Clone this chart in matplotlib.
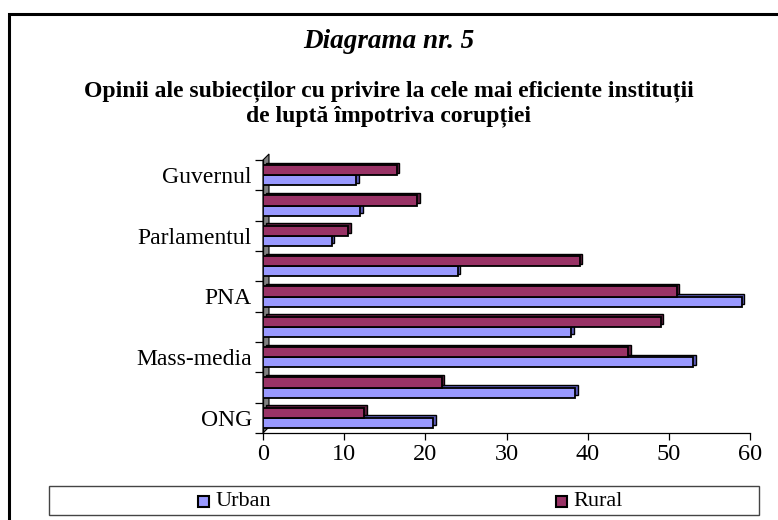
import matplotlib
matplotlib.use("Agg")
import matplotlib.pyplot as plt
import matplotlib.transforms as mtransforms
from matplotlib.patches import Rectangle, Polygon
import numpy as np

# categories from bottom to top (only every other one is labelled)
categories = ["ONG", "", "Mass-media", "", "PNA", "", "Parlamentul", "", "Guvernul"]
urban = [21, 38.5, 53, 38, 59, 24, 8.5, 12, 11.5]
rural = [12.5, 22, 45, 49, 51, 39, 10.5, 19, 16.5]
xticks = [0, 10, 20, 30, 40, 50, 60]

title = "Diagrama nr. 5"
subtitle = "Opinii ale subiecților cu privire la cele mai eficiente instituții\nde luptă împotriva corupției"

urban_color = "#9999FF"
urban_side = "#5C5CB8"
rural_color = "#993366"
rural_side = "#5E1F3F"

plt.rcParams["font.family"] = ["Liberation Serif", "DejaVu Serif"]

W, H = 778, 520
fig = plt.figure(figsize=(W / 100, H / 100), dpi=100)

# outer frame (left/top visible)
fig.add_artist(Rectangle((9 / W, -0.1), 1.2, (H - 14) / H + 0.1, transform=fig.transFigure,
                         fill=False, edgecolor="black", linewidth=2.2))

fig.text(0.5, 1 - 42 / H, title, ha="center", va="center", fontsize=19.5,
         fontweight="bold", fontstyle="italic")
fig.text(0.5, 1 - 104 / H, subtitle, ha="center", va="center", fontsize=17,
         fontweight="bold", linespacing=1.2)

ax = fig.add_axes([263 / W, 1 - 433 / H, (750 - 263) / W, (433 - 160) / H])

y = np.arange(len(categories))
h = 0.33
depth = mtransforms.ScaledTranslation(2.5 / 100, 2.5 / 100, fig.dpi_scale_trans)

# 3D side faces (shifted copies) then front faces
for vals, off, side in [(urban, -h / 2, urban_side), (rural, h / 2, rural_side)]:
    bars = ax.barh(y + off, vals, height=h, color=side, edgecolor="black", linewidth=1.0, zorder=2)
    for b in bars:
        b.set_transform(ax.transData + depth)
ax.barh(y - h / 2, urban, height=h, color=urban_color, edgecolor="black", linewidth=1.3,
        zorder=3, label="Urban")
ax.barh(y + h / 2, rural, height=h, color=rural_color, edgecolor="black", linewidth=1.3,
        zorder=3, label="Rural")

ax.set_xlim(0, 60)
ax.set_ylim(-0.5, len(categories) - 0.5)

# gray back wall of the category axis
wall = Polygon([(0, 0), (0, 1), (6 / 487, 1 + 6 / 273), (6 / 487, 6 / 273)], closed=True,
               transform=ax.transAxes, facecolor="#808080", edgecolor="black", linewidth=0.8,
               zorder=1, clip_on=False)
ax.add_patch(wall)

for s in ["top", "right"]:
    ax.spines[s].set_visible(False)
ax.spines["left"].set_linewidth(0.9)
ax.spines["bottom"].set_linewidth(0.9)

ax.set_xticks(xticks)
ax.set_xticklabels([str(t) for t in xticks], fontsize=17.5)
ax.tick_params(axis="x", direction="out", length=5, width=0.9, pad=3)

ax.set_yticks(y)
ax.set_yticklabels(categories, fontsize=17)
ax.tick_params(axis="y", which="major", length=0, pad=8)
ax.set_yticks(np.arange(len(categories) + 1) - 0.5, minor=True)
ax.tick_params(axis="y", which="minor", direction="out", length=6, width=0.9)

# legend box drawn below the plot
fig.add_artist(Rectangle((49 / W, 1 - 515 / H), (759 - 49) / W, 29 / H, transform=fig.transFigure,
                         fill=False, edgecolor="#444444", linewidth=1.0))
for name, col, x0 in [("Urban", urban_color, 198), ("Rural", rural_color, 556)]:
    fig.add_artist(Rectangle((x0 / W, 1 - 507 / H), 11 / W, 11 / H, transform=fig.transFigure,
                             facecolor=col, edgecolor="black", linewidth=1.5))
    fig.text((x0 + 17) / W, 1 - 501 / H, name, ha="left", va="center", fontsize=16)

fig.savefig("out.png", dpi=100)
